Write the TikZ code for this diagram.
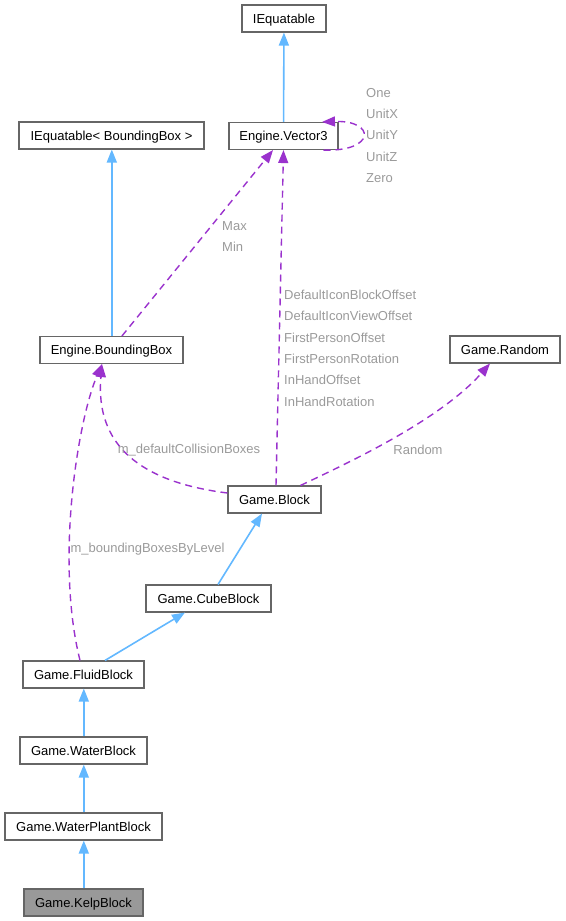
\documentclass[tikz,border=0pt]{standalone}
\usepackage{fontspec}
\setmainfont{Liberation Sans}
\usetikzlibrary{arrows.meta}
\definecolor{boxline}{HTML}{666666}
\definecolor{inhblue}{HTML}{63B8FF}
\definecolor{usepurple}{HTML}{9A32CD}
\definecolor{lblgray}{HTML}{9A9A9A}
\definecolor{kelpgray}{HTML}{999999}
\tikzset{
  cls/.style={draw=boxline, fill=white, line width=1.1pt, minimum height=27pt, inner sep=0pt, text height=9.3pt, text depth=0pt, font=\fontsize{13}{15}\selectfont},
  inherit/.style={draw=inhblue, line width=1.6pt, -{Triangle[length=13pt,width=10pt]}},
  usage/.style={draw=usepurple, line width=1.4pt, dash pattern=on 7pt off 5pt, -{Triangle[length=13pt,width=10pt]}},
  lbl/.style={text=lblgray, inner sep=0pt, align=left, font=\fontsize{13}{21.3}\selectfont}
}

\begin{document}
\begin{tikzpicture}[x=1pt,y=-1pt]
\useasboundingbox (0,0) rectangle (565,921);
\node[cls, minimum width=84pt] (ieq) at (284,18.5) {IEquatable};
\node[cls, minimum width=109pt] (vec) at (283.5,136) {Engine.Vector3};
\node[cls, minimum width=185pt] (ieqbb) at (111.5,135.5) {IEquatable< BoundingBox >};
\node[cls, minimum width=143pt] (bbox) at (111.5,350) {Engine.BoundingBox};
\node[cls, minimum width=110pt] (rnd) at (505,349.5) {Game.Random};
\node[cls, minimum width=93pt] (blk) at (274.5,499.5) {Game.Block};
\node[cls, minimum width=125pt] (cube) at (208.5,598.5) {Game.CubeBlock};
\node[cls, minimum width=121pt] (fluid) at (83.5,674.5) {Game.FluidBlock};
\node[cls, minimum width=127pt] (water) at (83.5,750.5) {Game.WaterBlock};
\node[cls, minimum width=157pt] (plant) at (83.5,826.5) {Game.WaterPlantBlock};
\node[cls, minimum width=119pt, fill=kelpgray] (kelp) at (83.5,902.5) {Game.KelpBlock};

\draw[inherit] (vec) -- (ieq);
\draw[inherit] ([xshift=0.3pt]bbox.north) -- ([xshift=0.3pt]ieqbb.south);
\draw[inherit] ([xshift=9.5pt]cube.north) -- ([xshift=-12.5pt]blk.south);
\draw[inherit] ([xshift=21.5pt]fluid.north) -- ([xshift=-23.5pt]cube.south);
\draw[inherit] ([xshift=0.3pt]water.north) -- ([xshift=0.3pt]fluid.south);
\draw[inherit] ([xshift=0.3pt]plant.north) -- ([xshift=0.3pt]water.south);
\draw[inherit] ([xshift=0.3pt]kelp.north) -- ([xshift=0.3pt]plant.south);

\draw[usage] ([xshift=40pt]vec.south) .. controls (376,152) and (376,120) .. ([xshift=38.5pt]vec.north);
\draw[usage] ([xshift=10.5pt]bbox.north) -- ([xshift=-10.5pt]vec.south);
\draw[usage] ([xshift=1.5pt]blk.north) -- (vec.south);
\draw[usage] ([xshift=26pt]blk.north) .. controls (350,462) and (440,420) .. ([xshift=-15pt]rnd.south);
\draw[usage] ([yshift=6.5pt]blk.west) .. controls (140,482) and (95,445) .. ([xshift=-9.5pt]bbox.south);
\draw[usage] ([xshift=-3.5pt]fluid.north) .. controls (55,560) and (78,420) .. ([xshift=-9.5pt]bbox.south);

\node[lbl, anchor=north west] (selflbl) at (366,88) {One\\UnitX\\UnitY\\UnitZ\\Zero};
\node[lbl, anchor=north west] (maxmin) at (222,221) {Max\\Min};
\node[lbl, anchor=north west] (vecmem) at (284,290) {DefaultIconBlockOffset\\DefaultIconViewOffset\\FirstPersonOffset\\FirstPersonRotation\\InHandOffset\\InHandRotation};
\node[lbl] (colllbl) at (189,450) {m\_defaultCollisionBoxes};
\node[lbl] (rndlbl) at (418,450) {Random};
\node[lbl] (levellbl) at (147.5,549) {m\_boundingBoxesByLevel};
\end{tikzpicture}
\end{document}
